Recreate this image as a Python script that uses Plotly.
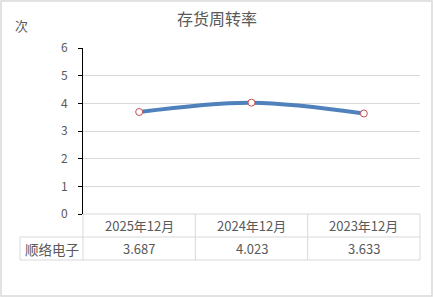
import plotly.graph_objects as go

categories = ["2025年12月", "2024年12月", "2023年12月"]
series_name = "顺络电子"
values = [3.687, 4.023, 3.633]
y_ticks = [0, 1, 2, 3, 4, 5, 6]
title = "存货周转率"
unit = "次"

W, H = 433, 297
L, R, T, B = 83, 13, 48, 83
pw, ph = W - L - R, H - T - B
FONT = "Noto Sans CJK SC, Microsoft YaHei, sans-serif"
TXT = "#595959"
GRID = "#d9d9d9"

def px_x(p):
    return (p - L) / pw

def px_y(p):
    return (H - B - p) / ph

fig = go.Figure()
fig.add_trace(go.Scatter(
    x=categories, y=values, mode="lines+markers",
    line=dict(color="#4f81bd", width=4, shape="spline", smoothing=1.0),
    marker=dict(size=7, color="white", line=dict(color="#c0504d", width=1)),
    showlegend=False, hoverinfo="skip",
))

shapes = []
row1 = px_y(237)
row2 = px_y(260)
shapes.append(dict(type="line", xref="paper", yref="paper", x0=0, x1=1, y0=0, y1=0, line=dict(color=GRID, width=1)))
shapes.append(dict(type="line", xref="paper", yref="paper", x0=px_x(20), x1=1, y0=row1, y1=row1, line=dict(color=GRID, width=1)))
shapes.append(dict(type="line", xref="paper", yref="paper", x0=px_x(20), x1=1, y0=row2, y1=row2, line=dict(color=GRID, width=1)))
shapes.append(dict(type="line", xref="paper", yref="paper", x0=px_x(20), x1=px_x(20), y0=row1, y1=row2, line=dict(color=GRID, width=1)))
n = len(categories)
for i in range(n + 1):
    xv = i / n
    shapes.append(dict(type="line", xref="paper", yref="paper", x0=xv, x1=xv, y0=0, y1=row2, line=dict(color=GRID, width=1)))
shapes.append(dict(type="rect", xref="paper", yref="paper",
                   x0=px_x(1), x1=px_x(W - 1), y0=px_y(H - 1), y1=px_y(1),
                   line=dict(color=GRID, width=1.5)))

annotations = []
common = dict(showarrow=False, xanchor="center", yanchor="middle")
for i, c in enumerate(categories):
    annotations.append(dict(x=c, xref="x", y=(0 + row1) / 2, yref="paper", text=c,
                            font=dict(family=FONT, size=13, color=TXT), **common))
    annotations.append(dict(x=c, xref="x", y=(row1 + row2) / 2, yref="paper", text=f"{values[i]:.3f}",
                            font=dict(family=FONT, size=13, color=TXT), **common))
annotations.append(dict(x=px_x(51.5), xref="paper", y=(row1 + row2) / 2, yref="paper", text=series_name,
                        font=dict(family=FONT, size=13.5, color=TXT), **common))
annotations.append(dict(x=px_x(217), xref="paper", y=px_y(18), yref="paper", text=title,
                        font=dict(family=FONT, size=16, color=TXT), **common))
annotations.append(dict(x=px_x(21), xref="paper", y=px_y(26), yref="paper", text=unit,
                        font=dict(family=FONT, size=13, color=TXT), **common))

fig.update_layout(
    width=W, height=H,
    margin=dict(l=L, r=R, t=T, b=B),
    paper_bgcolor="white", plot_bgcolor="white",
    shapes=shapes, annotations=annotations,
    xaxis=dict(range=[-0.5, len(categories) - 0.5], showticklabels=False, showgrid=False,
               zeroline=False, showline=False, ticks=""),
    yaxis=dict(range=[0, 6], tickvals=y_ticks, showgrid=True, gridcolor=GRID, gridwidth=1,
               zeroline=False, showline=True, linecolor="black", linewidth=1,
               ticks="outside", ticklen=4, tickcolor="black", ticklabelstandoff=8,
               tickfont=dict(family=FONT, size=12, color=TXT)),
    font=dict(family=FONT),
)

fig.write_html("out.html")
